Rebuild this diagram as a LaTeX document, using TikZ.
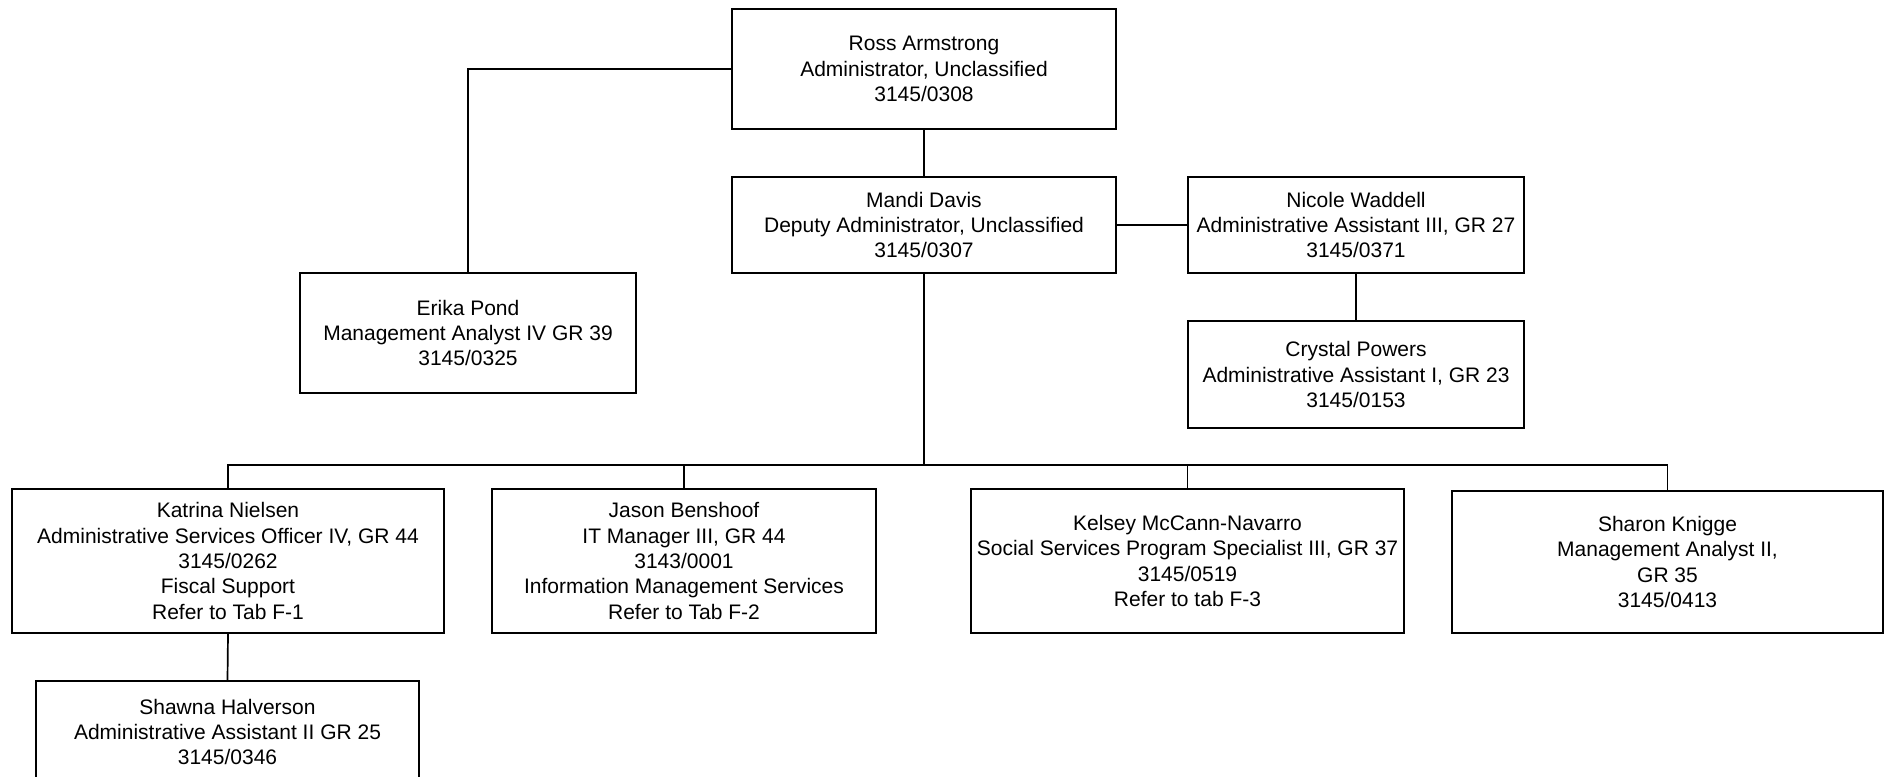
\documentclass[tikz,border=0pt]{standalone}
\usepackage{fontspec}
\setmainfont{Liberation Sans}
\begin{document}
\begin{tikzpicture}[x=1pt,y=-1pt,
  box/.style={draw,line width=1.7pt,rectangle,align=center,inner sep=0pt,
    font=\fontsize{21}{25.3}\selectfont},
  conn/.style={line width=1.7pt}]
\useasboundingbox (0,0) rectangle (1889,776);
\node[box,minimum width=384pt,minimum height=120pt] (ross) at (924,69)
  {Ross Armstrong\\Administrator, Unclassified\\3145/0308};
\node[box,minimum width=384pt,minimum height=96pt] (mandi) at (924,225)
  {Mandi Davis\\Deputy Administrator, Unclassified\\3145/0307};
\node[box,minimum width=336pt,minimum height=96pt] (nicole) at (1356,225)
  {Nicole Waddell\\Administrative Assistant III, GR 27\\3145/0371};
\node[box,minimum width=336pt,minimum height=107pt] (crystal) at (1356,374.5)
  {Crystal Powers\\Administrative Assistant I, GR 23\\3145/0153};
\node[box,minimum width=336pt,minimum height=120pt] (erika) at (468,333)
  {Erika Pond\\Management Analyst IV GR 39\\3145/0325};
\node[box,minimum width=432pt,minimum height=144pt] (katrina) at (228,561)
  {Katrina Nielsen\\Administrative Services Officer IV, GR 44\\3145/0262\\Fiscal Support\\Refer to Tab F-1};
\node[box,minimum width=384pt,minimum height=144pt] (jason) at (684,561)
  {Jason Benshoof\\IT Manager III, GR 44\\3143/0001\\Information Management Services\\Refer to Tab F-2};
\node[box,minimum width=433pt,minimum height=144pt] (kelsey) at (1187.5,561)
  {Kelsey McCann-Navarro\\Social Services Program Specialist III, GR 37\\3145/0519\\Refer to tab F-3};
\node[box,minimum width=431pt,minimum height=142pt] (sharon) at (1667.5,562)
  {Sharon Knigge\\Management Analyst II,\\GR 35\\3145/0413};
\node[box,minimum width=383pt,minimum height=102pt] (shawna) at (227.5,732)
  {Shawna Halverson\\Administrative Assistant II GR 25\\3145/0346};
\coordinate (bus) at (0,465);
\draw[conn] (ross.west) -| (erika.north);
\draw[conn] (ross.south) -- (mandi.north);
\draw[conn] (mandi.east) -- (nicole.west);
\draw[conn] (nicole.south) -- (crystal.north);
\draw[conn] (mandi.south) -- (mandi.south |- bus);
\draw[conn] (katrina.north) |- (sharon.north |- bus) -- (sharon.north);
\draw[conn] (jason.north) -- (jason.north |- bus);
\draw[conn] (kelsey.north) -- (kelsey.north |- bus);
\draw[conn] (katrina.south) -- (shawna.north);
\end{tikzpicture}
\end{document}
